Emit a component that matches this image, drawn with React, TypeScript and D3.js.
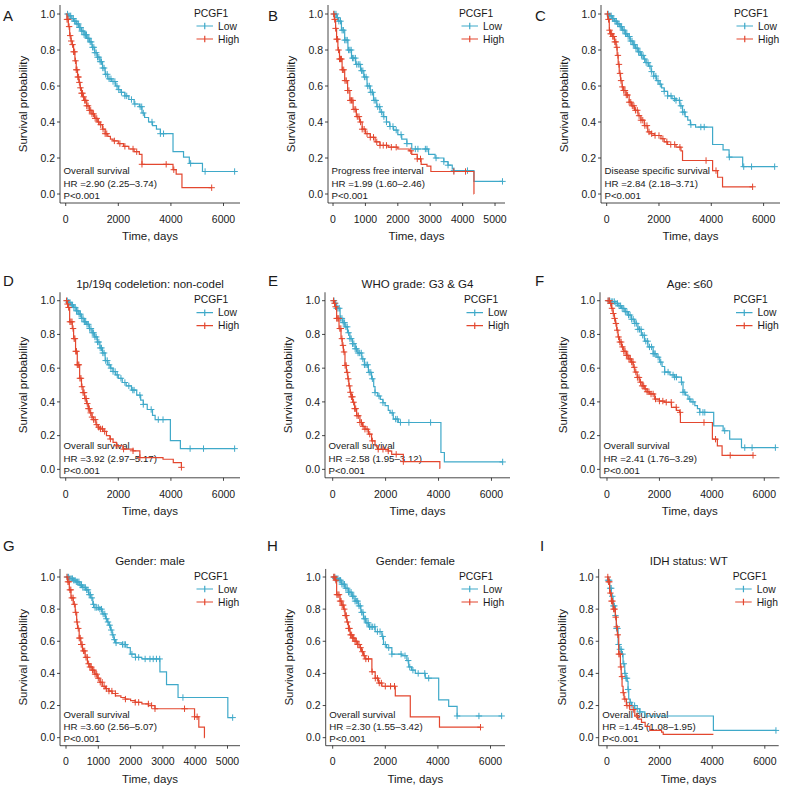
import React from 'react';
import * as d3 from 'd3';

type Pt = [number, number];

// ---------- Kaplan–Meier step data (time in days, survival probability) ----------
const A_low: Pt[] = [[0,1],[100,0.99],[200,0.975],[300,0.96],[400,0.945],[500,0.925],[600,0.905],[700,0.885],[800,0.865],[900,0.845],[1000,0.815],[1100,0.785],[1200,0.76],[1300,0.735],[1400,0.70],[1500,0.665],[1600,0.64],[1750,0.625],[1900,0.60],[2000,0.58],[2100,0.565],[2250,0.545],[2400,0.525],[2600,0.50],[2800,0.485],[2900,0.45],[3000,0.425],[3150,0.40],[3300,0.38],[3450,0.36],[3600,0.335],[4080,0.235],[4480,0.205],[4700,0.17],[5200,0.125],[6423,0.125]];
const A_high: Pt[] = [[0,1],[50,0.97],[100,0.93],[150,0.88],[200,0.85],[250,0.83],[300,0.79],[350,0.74],[400,0.69],[450,0.65],[500,0.62],[550,0.59],[600,0.56],[650,0.54],[700,0.52],[800,0.49],[900,0.465],[1000,0.445],[1100,0.42],[1200,0.40],[1300,0.385],[1400,0.36],[1500,0.335],[1600,0.32],[1700,0.305],[1800,0.295],[2000,0.28],[2200,0.265],[2400,0.25],[2600,0.235],[2800,0.22],[2900,0.165],[4080,0.135],[4200,0.11],[4420,0.035],[5550,0.035]];
const A_lowC = [70,130,190,240,290,340,390,430,480,520,570,610,660,700,750,790,840,880,930,970,1020,1070,1110,1160,1210,1260,1310,1360,1410,1460,1520,1580,1650,1720,1800,1870,1950,2020,2120,2250,2320,2500,2630,2830,2890,2950,3280,3600,3720,4750,5300,6423];
const A_highC = [50,90,130,170,210,260,300,340,370,400,430,460,490,520,560,600,640,680,720,760,800,850,900,950,1000,1060,1120,1180,1250,1330,1420,1500,1560,1850,2060,2250,2560,2700,2900,3820,4110,5550];

const B_low: Pt[] = [[0,1],[100,0.98],[170,0.96],[260,0.91],[360,0.855],[460,0.80],[570,0.755],[700,0.72],[850,0.685],[950,0.65],[1050,0.60],[1150,0.565],[1250,0.52],[1350,0.485],[1450,0.455],[1550,0.43],[1650,0.40],[1750,0.375],[1870,0.355],[2000,0.33],[2120,0.305],[2280,0.28],[2430,0.25],[2950,0.22],[3150,0.20],[3420,0.18],[3550,0.16],[3680,0.14],[3720,0.13],[4350,0.07],[5230,0.07]];
const B_high: Pt[] = [[0,1],[40,0.97],[80,0.92],[110,0.86],[150,0.80],[200,0.75],[280,0.69],[360,0.63],[450,0.575],[520,0.52],[620,0.47],[720,0.43],[820,0.40],[900,0.36],[1000,0.335],[1150,0.315],[1300,0.29],[1450,0.27],[1700,0.26],[2000,0.25],[2350,0.24],[2430,0.22],[2600,0.195],[2720,0.165],[2900,0.155],[3020,0.125],[4350,0],[4351,0]];
const B_lowC = [40,90,140,180,230,280,320,360,400,440,480,520,560,600,640,690,730,780,830,880,920,970,1020,1070,1120,1170,1220,1270,1320,1380,1440,1500,1570,1650,1760,1850,1950,2100,2280,2540,2620,2850,2900,3180,3420,3550,3730,4150,5230];
const B_highC = [20,50,80,110,140,170,200,230,260,290,330,370,410,450,490,530,570,610,650,700,750,800,850,900,960,1050,1150,1250,1350,1450,1550,1650,1800,1950,2400,2600,2700,3730,4090];

const C_low: Pt[] = [[0,1],[100,0.99],[200,0.975],[300,0.96],[400,0.945],[500,0.93],[600,0.91],[700,0.89],[800,0.875],[900,0.85],[1000,0.83],[1100,0.81],[1200,0.79],[1300,0.77],[1400,0.75],[1500,0.73],[1600,0.71],[1700,0.68],[1800,0.655],[1900,0.63],[2000,0.61],[2100,0.59],[2200,0.57],[2330,0.545],[2500,0.53],[2650,0.52],[2800,0.49],[2900,0.455],[3000,0.43],[3100,0.41],[3200,0.385],[3400,0.372],[4050,0.275],[4450,0.245],[4680,0.205],[5200,0.152],[6423,0.152]];
const C_high: Pt[] = [[0,1],[40,0.97],[100,0.91],[150,0.89],[230,0.875],[300,0.845],[360,0.815],[400,0.77],[440,0.72],[480,0.67],[530,0.63],[590,0.595],[650,0.575],[740,0.55],[860,0.51],[950,0.49],[1060,0.465],[1200,0.435],[1310,0.41],[1440,0.38],[1570,0.345],[1700,0.335],[1820,0.325],[2075,0.307],[2200,0.29],[2330,0.275],[2650,0.26],[2840,0.24],[2900,0.186],[4050,0.13],[4240,0.093],[4430,0.04],[5580,0.04]];
const C_lowC = [60,120,170,220,270,320,370,420,470,520,570,620,670,720,770,820,870,920,970,1020,1070,1120,1170,1220,1270,1330,1390,1450,1510,1580,1650,1720,1800,1880,1960,2050,2200,2330,2460,2590,2650,2780,2840,2910,2970,3220,3600,3730,4690,5240,5540,6423];
const C_highC = [30,70,110,150,190,230,270,310,350,390,430,470,510,550,600,650,700,750,800,860,920,980,1040,1100,1170,1240,1310,1380,1460,1540,1620,1720,1850,2000,2150,2300,2450,2600,2800,3800,4180,5580];

const D_low: Pt[] = [[0,1],[100,0.99],[200,0.975],[300,0.96],[400,0.94],[500,0.92],[600,0.895],[700,0.875],[800,0.86],[900,0.835],[1000,0.81],[1100,0.785],[1200,0.755],[1300,0.72],[1400,0.69],[1500,0.645],[1600,0.62],[1700,0.60],[1800,0.58],[1900,0.56],[2000,0.54],[2150,0.515],[2300,0.495],[2500,0.47],[2700,0.44],[2850,0.41],[2950,0.385],[3100,0.355],[3300,0.32],[3400,0.295],[3980,0.17],[4360,0.123],[6423,0.123]];
const D_high: Pt[] = [[0,1],[60,0.98],[90,0.96],[150,0.875],[250,0.835],[300,0.775],[375,0.70],[440,0.62],[530,0.54],[600,0.49],[660,0.455],[720,0.42],[790,0.39],[860,0.36],[920,0.335],[1000,0.31],[1050,0.295],[1150,0.265],[1230,0.25],[1300,0.24],[1420,0.225],[1550,0.20],[1680,0.18],[1800,0.16],[1930,0.14],[2180,0.12],[2560,0.11],[2820,0.07],[3700,0.06],[4090,0.04],[4400,0.012],[4410,0.012]];
const D_lowC = [60,110,160,210,260,310,360,410,460,510,560,610,660,710,760,810,860,910,960,1010,1060,1110,1160,1210,1260,1310,1360,1410,1460,1520,1580,1650,1720,1800,1880,1960,2100,2250,2400,2550,2600,2820,2950,3250,3520,3700,4730,5240,6423];
const D_highC = [30,70,110,160,200,240,280,320,350,380,410,440,470,500,540,580,620,660,700,740,780,820,860,900,950,1000,1060,1120,1180,1250,1320,1400,1480,1700,1950,2200,2560,2820,4400];

const E_low: Pt[] = [[0,1],[80,0.985],[150,0.955],[280,0.895],[380,0.87],[470,0.845],[560,0.81],[650,0.775],[750,0.745],[850,0.715],[950,0.69],[1100,0.655],[1200,0.62],[1350,0.575],[1470,0.537],[1550,0.49],[1600,0.455],[1700,0.435],[1800,0.415],[1900,0.395],[1980,0.378],[2100,0.35],[2170,0.335],[2290,0.298],[2480,0.278],[4090,0.1],[4220,0.044],[6423,0.044]];
const E_high: Pt[] = [[0,1],[50,0.985],[90,0.964],[150,0.895],[240,0.835],[315,0.775],[360,0.735],[405,0.696],[465,0.616],[520,0.575],[570,0.537],[610,0.495],[655,0.457],[700,0.43],[755,0.398],[830,0.36],[905,0.318],[1030,0.278],[1130,0.255],[1220,0.238],[1350,0.209],[1470,0.169],[1600,0.14],[1720,0.119],[2100,0.109],[2230,0.089],[2670,0.046],[4050,0.005],[4060,0.005]];
const E_lowC = [50,100,150,200,250,300,350,400,450,500,550,600,650,700,750,800,850,900,960,1020,1080,1140,1200,1260,1320,1380,1440,1500,1600,1750,1900,2250,2380,2440,2560,2880,3700,6423];
const E_highC = [30,70,110,150,190,230,270,310,350,390,430,470,510,550,590,630,670,710,750,790,830,870,920,970,1030,1090,1150,1220,1300,1400,1500,1720,1900,2100,2400,2670];

const F_low: Pt[] = [[0,1],[150,0.995],[290,0.984],[420,0.97],[550,0.954],[680,0.935],[800,0.915],[930,0.89],[1060,0.865],[1180,0.83],[1310,0.795],[1430,0.76],[1560,0.726],[1760,0.686],[1900,0.665],[2010,0.636],[2100,0.61],[2200,0.577],[2400,0.56],[2580,0.547],[2840,0.517],[2900,0.457],[3000,0.44],[3090,0.417],[3200,0.40],[3350,0.378],[3450,0.36],[3540,0.338],[4070,0.258],[4430,0.229],[4680,0.179],[5130,0.129],[6423,0.129]];
const F_high: Pt[] = [[0,1],[100,0.984],[170,0.955],[230,0.924],[280,0.895],[320,0.865],[370,0.825],[420,0.785],[480,0.755],[550,0.726],[640,0.70],[740,0.676],[830,0.655],[930,0.636],[1000,0.605],[1060,0.577],[1150,0.545],[1250,0.517],[1340,0.495],[1440,0.477],[1530,0.46],[1630,0.447],[1820,0.417],[2000,0.405],[2200,0.398],[2460,0.368],[2650,0.35],[2770,0.338],[2800,0.278],[4020,0.179],[4210,0.139],[4390,0.083],[5570,0.083]];
const F_lowC = [50,100,160,220,280,340,400,460,520,580,640,700,760,820,880,940,1000,1060,1120,1180,1240,1300,1360,1420,1480,1550,1620,1700,1760,1800,1840,1950,2050,2200,2330,2520,2580,2650,2840,2900,2965,3155,3280,3540,3660,3730,4490,5255,5534,6423];
const F_highC = [40,90,140,190,240,290,340,390,440,490,540,590,640,690,740,790,840,890,940,990,1040,1100,1160,1220,1280,1340,1400,1460,1530,1600,1680,1760,1850,2000,2130,2260,2450,2640,2790,3700,4140,4700,5570];

const G_low: Pt[] = [[0,1],[100,0.99],[204,0.98],[300,0.97],[408,0.95],[510,0.935],[612,0.92],[700,0.89],[765,0.87],[830,0.83],[867,0.81],[1020,0.80],[1122,0.77],[1224,0.74],[1280,0.72],[1327,0.70],[1380,0.67],[1429,0.64],[1480,0.61],[1531,0.59],[1735,0.58],[1888,0.56],[1990,0.52],[2150,0.50],[2347,0.49],[2908,0.41],[3112,0.33],[3469,0.25],[5010,0.125],[5160,0.125]];
const G_high: Pt[] = [[0,1],[51,0.97],[102,0.92],[153,0.87],[224,0.83],[286,0.78],[330,0.72],[357,0.68],[408,0.62],[459,0.58],[510,0.54],[592,0.50],[663,0.46],[740,0.44],[816,0.42],[890,0.395],[969,0.37],[1050,0.345],[1122,0.32],[1220,0.305],[1327,0.29],[1430,0.275],[1531,0.26],[1700,0.25],[1837,0.24],[2000,0.23],[2143,0.22],[2350,0.21],[2551,0.20],[2755,0.18],[3980,0.13],[4112,0.066],[4286,0],[4290,0]];
const G_lowC = [40,80,120,160,200,240,280,320,360,400,440,480,520,560,600,640,680,720,760,800,850,900,950,1000,1050,1100,1150,1200,1250,1300,1350,1400,1450,1500,1550,1750,1800,1840,2040,2150,2250,2450,2600,2700,2800,2900,3620,5160];
const G_highC = [30,60,90,120,150,180,220,260,300,340,380,410,440,470,500,540,580,620,660,700,740,780,820,860,900,950,1000,1060,1120,1180,1250,1330,1420,1530,1840,2143,2250,2550,2650,2755,3670,3980,4060];

const H_low: Pt[] = [[0,1],[100,0.99],[216,0.98],[340,0.955],[470,0.93],[600,0.905],[725,0.88],[850,0.85],[980,0.82],[1070,0.78],[1170,0.74],[1260,0.715],[1360,0.69],[1615,0.66],[1870,0.63],[1930,0.58],[2050,0.56],[2250,0.52],[2630,0.51],[2820,0.48],[2890,0.44],[3000,0.42],[3140,0.40],[3520,0.37],[4030,0.235],[4410,0.195],[4730,0.135],[6423,0.135]];
const H_high: Pt[] = [[0,1],[90,0.98],[150,0.89],[280,0.85],[340,0.825],[410,0.80],[470,0.76],[535,0.72],[600,0.68],[660,0.64],[760,0.62],[850,0.60],[950,0.58],[1040,0.56],[1100,0.535],[1170,0.51],[1230,0.49],[1490,0.41],[1615,0.37],[1740,0.34],[1870,0.32],[2380,0.26],[2950,0.13],[4060,0.065],[5620,0.065]];
const H_lowC = [50,100,150,200,250,300,350,400,450,500,550,600,650,700,750,800,850,900,950,1000,1050,1100,1150,1200,1250,1300,1350,1400,1460,1520,1600,1700,1800,1900,2000,2130,2250,2600,2750,2870,2930,3050,3250,3500,3650,4730,5560,6423];
const H_highC = [40,80,120,160,200,240,280,320,360,400,440,480,520,560,600,640,680,720,760,800,850,900,950,1000,1060,1130,1200,1260,1360,1500,1620,1700,1770,1850,2000,2200,2350,5620];

const I_low: Pt[] = [[0,1],[38,0.98],[100,0.93],[165,0.88],[230,0.82],[318,0.76],[356,0.68],[420,0.58],[480,0.55],[547,0.52],[610,0.46],[674,0.40],[720,0.37],[763,0.35],[800,0.30],[826,0.24],[880,0.22],[929,0.20],[1056,0.18],[1246,0.16],[1438,0.135],[4045,0.045],[6423,0.045]];
const I_high: Pt[] = [[0,1],[38,0.97],[100,0.90],[165,0.85],[230,0.80],[318,0.75],[356,0.69],[394,0.64],[445,0.52],[509,0.44],[540,0.38],[572,0.32],[610,0.28],[649,0.24],[737,0.20],[865,0.175],[1056,0.135],[1170,0.115],[1311,0.095],[1450,0.07],[1628,0.045],[2074,0.035],[2137,0.02],[4045,0.02]];
const I_lowC = [40,80,120,160,200,240,280,320,360,400,440,490,540,590,640,680,720,760,800,880,950,1050,1150,1250,6423];
const I_highC = [30,60,90,130,170,210,250,290,330,370,410,450,490,530,570,620,680,760,850,1000,1150];

// ---------- Text ----------
const panelLetters = ['A','B','C','D','E','F','G','H','I'];
const panelTitles = ['', '', '', '1p/19q codeletion: non-codel', 'WHO grade: G3 & G4', 'Age: \u226460', 'Gender: male', 'Gender: female', 'IDH status: WT'];
const endpointLabels = ['Overall survival','Progress free interval','Disease specific survival','Overall survival','Overall survival','Overall survival','Overall survival','Overall survival','Overall survival'];
const hrLabels = ['HR =2.90 (2.25\u20133.74)','HR =1.99 (1.60\u20132.46)','HR =2.84 (2.18\u20133.71)','HR =3.92 (2.97\u20135.17)','HR =2.58 (1.95\u20133.12)','HR =2.41 (1.76\u20133.29)','HR =3.60 (2.56\u20135.07)','HR =2.30 (1.55\u20133.42)','HR =1.45 (1.08\u20131.95)'];
const pLabels = ['P<0.001','P<0.001','P<0.001','P<0.001','P<0.001','P<0.001','P<0.001','P<0.001','P<0.001'];
const xTicks6000 = [0, 2000, 4000, 6000];
const xTicks5000 = [0, 1000, 2000, 3000, 4000, 5000];
const yTicks = [0, 0.2, 0.4, 0.6, 0.8, 1.0];
const legendTitle = 'PCGF1';
const groupNames = ['Low', 'High'];

const lowSteps = [A_low, B_low, C_low, D_low, E_low, F_low, G_low, H_low, I_low];
const highSteps = [A_high, B_high, C_high, D_high, E_high, F_high, G_high, H_high, I_high];
const lowCens = [A_lowC, B_lowC, C_lowC, D_lowC, E_lowC, F_lowC, G_lowC, H_lowC, I_lowC];
const highCens = [A_highC, B_highC, C_highC, D_highC, E_highC, F_highC, G_highC, H_highC, I_highC];
const panelTicks = [xTicks6000, xTicks5000, xTicks6000, xTicks6000, xTicks6000, xTicks6000, xTicks5000, xTicks6000, xTicks6000];

// ---------- Layout ----------
const rowsLayout = [
  { axisY: 203, y1: 14, letterY: 21 },
  { axisY: 477.8, y1: 300.7, letterY: 285.5 },
  { axisY: 745.7, y1: 577, letterY: 550.5 },
];
const panelLayout = [
  { row: 0, axisX: 60, right: 240, dom: [-217, 6627], letterX: 3 },
  { row: 0, axisX: 328, right: 505, dom: [-155, 5308], letterX: 268 },
  { row: 0, axisX: 601, right: 780, dom: [-217, 6627], letterX: 535 },
  { row: 1, axisX: 60, right: 240, dom: [-217, 6627], letterX: 3 },
  { row: 1, axisX: 325, right: 510, dom: [-290, 6700], letterX: 268 },
  { row: 1, axisX: 600, right: 779.5, dom: [-267, 6580], letterX: 535 },
  { row: 2, axisX: 60, right: 240, dom: [-186, 5387], letterX: 3 },
  { row: 2, axisX: 325.7, right: 505, dom: [-266, 6551], letterX: 267 },
  { row: 2, axisX: 598.7, right: 778.7, dom: [-316, 6528], letterX: 540 },
];

const FONT = "'Liberation Sans', Arial, Helvetica, sans-serif";
const BLUE = '#3fa9c9';
const RED = '#e3472f';
const INK = '#1a1a1a';

function survAt(steps: Pt[], t: number): number {
  let s = steps[0][1];
  for (const [tt, ss] of steps) {
    if (tt <= t) s = ss; else break;
  }
  return s;
}

function Panel({ i }: { i: number }) {
  const L = panelLayout[i];
  const R = rowsLayout[L.row];
  const top = R.axisY - (R.axisY - R.y1) * 1.1 / 1.05;
  const x = d3.scaleLinear().domain(L.dom).range([L.axisX, L.right]);
  const y = d3.scaleLinear().domain([-0.05, 1.05]).range([R.axisY, top]);
  const line = d3.line<Pt>().x(d => x(d[0])).y(d => y(d[1])).curve(d3.curveStepAfter);
  const cross = (steps: Pt[], cens: number[]) =>
    cens.map(t => {
      const cx = x(t), cy = y(survAt(steps, t));
      return `M${cx - 3.2},${cy}h6.4M${cx},${cy - 3.2}v6.4`;
    }).join('');
  const y0 = y(0);
  const textX = L.axisX + 3.5;
  const midX = (L.axisX + L.right) / 2;
  const midY = (y(0) + y(1)) / 2;
  const legX = L.right - 46;
  const groups = [
    { steps: lowSteps[i], cens: lowCens[i], color: BLUE },
    { steps: highSteps[i], cens: highCens[i], color: RED },
  ];
  return (
    <g fontFamily={FONT}>
      <text x={L.letterX} y={R.letterY} fontSize={15} fill={INK}>{panelLetters[i]}</text>
      {panelTitles[i] && (
        <text x={midX} y={R.y1 - 12.5} fontSize={11.5} textAnchor="middle" fill={INK}>{panelTitles[i]}</text>
      )}
      <g fontSize={9.7} fill={INK}>
        <text x={textX} y={y0 - 20}>{endpointLabels[i]}</text>
        <text x={textX} y={y0 - 7.5}>{hrLabels[i]}</text>
        <text x={textX} y={y0 + 4.5}>{pLabels[i]}</text>
      </g>
      {groups.map((g, k) => (
        <g key={k} stroke={g.color} fill="none" strokeWidth={1.2}>
          <path d={line(g.steps) || ''} />
          <path d={cross(g.steps, g.cens)} strokeWidth={1} />
        </g>
      ))}
      {/* axes */}
      <path d={`M${L.axisX},${top}V${R.axisY}H${L.right}`} stroke={INK} fill="none" strokeWidth={0.8} />
      {yTicks.map(v => (
        <g key={v}>
          <line x1={L.axisX - 3} x2={L.axisX} y1={y(v)} y2={y(v)} stroke={INK} strokeWidth={0.8} />
          <text x={L.axisX - 5} y={y(v) + 3.7} fontSize={10.5} textAnchor="end" fill={INK}>{d3.format('.1f')(v)}</text>
        </g>
      ))}
      {panelTicks[i].map(v => (
        <g key={v}>
          <line x1={x(v)} x2={x(v)} y1={R.axisY} y2={R.axisY + 3} stroke={INK} strokeWidth={0.8} />
          <text x={x(v)} y={R.axisY + 19.7} fontSize={10.5} textAnchor="middle" fill={INK}>{v}</text>
        </g>
      ))}
      <text x={midX} y={R.axisY + 37} fontSize={11.5} textAnchor="middle" fill={INK}>Time, days</text>
      <text transform={`translate(${L.axisX - 33},${midY}) rotate(-90)`} fontSize={11.5} textAnchor="middle" fill={INK}>Survival probability</text>
      {/* legend */}
      <text x={legX} y={R.y1 + 2.6} fontSize={10.3} fill={INK}>{legendTitle}</text>
      {groups.map((g, k) => {
        const ly = R.y1 + 12 + k * 13;
        return (
          <g key={k}>
            <path d={`M${legX + 2.5},${ly}H${legX + 19}M${legX + 10.75},${ly - 3.2}v6.4`} stroke={g.color} strokeWidth={1.2} fill="none" />
            <text x={legX + 24} y={ly + 3.7} fontSize={10.3} fill={INK}>{groupNames[k]}</text>
          </g>
        );
      })}
    </g>
  );
}

export default function App() {
  return (
    <svg width={793} height={795} style={{ position: 'absolute', left: 0, top: 0, background: '#fff' }}>
      <rect width={793} height={795} fill="#fff" />
      {panelLetters.map((_, i) => <Panel key={i} i={i} />)}
    </svg>
  );
}
